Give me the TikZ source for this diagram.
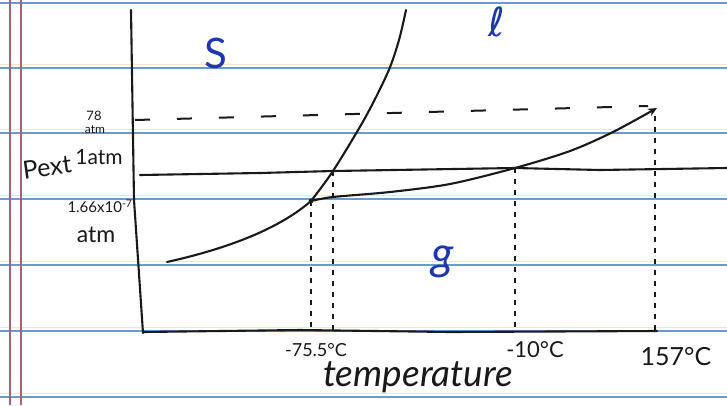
\documentclass[tikz,border=0pt]{standalone}
\usepackage{fontspec}
\setmainfont{Lato}
\newfontfamily\scriptl{DejaVu Sans}
\usetikzlibrary{arrows.meta}
\definecolor{ruleblue}{RGB}{105,155,205}
\definecolor{rulebeige}{RGB}{245,228,205}
\definecolor{marginred}{RGB}{175,95,115}
\definecolor{penblue}{RGB}{30,55,175}
\definecolor{ink}{RGB}{25,25,25}
\begin{document}
\begin{tikzpicture}[x=1pt,y=-1pt,
  inkline/.style={line width=2.1pt, draw=ink, line cap=round, line join=round},
  guide/.style={line width=1.5pt, draw=ink, dash pattern=on 5pt off 6pt},
  topdash/.style={line width=2pt, draw=ink, dash pattern=on 15pt off 27pt},
  lbl/.style={text=ink, inner sep=0pt, font=\fontsize{15}{16}\selectfont},
  phase/.style={text=penblue, inner sep=0pt, font=\fontsize{42}{42}\selectfont}]
\useasboundingbox (0,0) rectangle (727,405);
\fill[white] (0,0) rectangle (727,405);
% notebook paper
\foreach \y in {64,129,195,261,327,393} \draw[rulebeige, line width=1pt] (0,\y) -- (727,\y);
\foreach \y in {3,68,133,199,265,331,397} \draw[ruleblue, line width=1.3pt] (0,\y) -- (727,\y);
\draw[marginred, line width=1.1pt] (10,0) -- (10,405);
\draw[marginred, line width=1.1pt] (21,0) -- (21,405);
% key points
\coordinate (TP) at (311,201);
\coordinate (M1) at (333,171);
\coordinate (V10) at (515,168);
\coordinate (CP) at (657,108);
\coordinate (ST) at (167,262);
\coordinate (MT) at (406,10);
\coordinate (A75) at (311,331);
\coordinate (A755) at (333,331);
\coordinate (A10) at (515,331);
\coordinate (A157) at (655,331);
\coordinate (CPb) at (655,116);
\coordinate (D0) at (135,120);
\coordinate (D1) at (648,106);
\coordinate (H0) at (140,175);
\coordinate (H1) at (727,168);
% axes
\draw[inkline] (131,10) -- (134,200) -- (143,333);
\draw[inkline] (143,332) -- (300,330) -- (450,332) -- (657,331);
% 1 atm line
\draw[inkline] (H0) -- (260,173) -- (M1) -- (V10) -- (600,170) -- (H1);
% 78 atm dashed
\draw[topdash] (D0) -- (D1);
% sublimation curve
\draw[inkline] (ST) .. controls (230,248) and (280,228) .. (TP);
% melting curve
\draw[inkline] plot[smooth] coordinates {(311,201) (333,171) (365,118) (388,72) (399,40) (406,10)};
% vaporization curve
\draw[inkline, -{Stealth[length=9pt,width=8pt]}] plot[smooth] coordinates {(311,201) (333,197) (390,192) (450,184) (515,168) (570,151) (613,132) (657,108)};
\fill[ink] (TP) circle (2.4pt);
% dashed verticals
\draw[guide] (TP) -- (A75);
\draw[guide] (M1) -- (A755);
\draw[guide] (V10) -- (A10);
\draw[guide] (CPb) -- (A157);
% phase labels
\node[phase] (S) at (216,53) {S};
\node[phase, font=\scriptl\fontsize{40}{40}\selectfont] (L) at (497,22) {ℓ};
\node[phase, font=\itshape\fontsize{46}{46}\selectfont] (G) at (443,262) {g};
% y labels
\node[lbl, rotate=8, font=\fontsize{25}{25}\selectfont] (P) at (47,167) {Pext};
\node[lbl, font=\fontsize{13}{13}\selectfont] (l78) at (94,116) {78};
\node[lbl, font=\fontsize{12}{12}\selectfont] (a78) at (95,130) {atm};
\node[lbl, font=\fontsize{21}{21}\selectfont] (one) at (99,157) {1atm};
\node[lbl, font=\fontsize{15}{15}\selectfont] (tri) at (100,206) {1.66x10\textsuperscript{-7}};
\node[lbl, font=\fontsize{23}{23}\selectfont] (atm) at (96,235) {atm};
% x labels
\node[lbl, font=\fontsize{18}{18}\selectfont] (t1) at (316,350) {-75.5°C};
\node[lbl, font=\fontsize{22}{22}\selectfont] (t2) at (535,350) {-10°C};
\node[lbl, font=\fontsize{25}{25}\selectfont] (t3) at (676,357) {157°C};
\node[lbl, font=\itshape\fontsize{37}{37}\selectfont] (T) at (418,377) {temperature};
\end{tikzpicture}
\end{document}
